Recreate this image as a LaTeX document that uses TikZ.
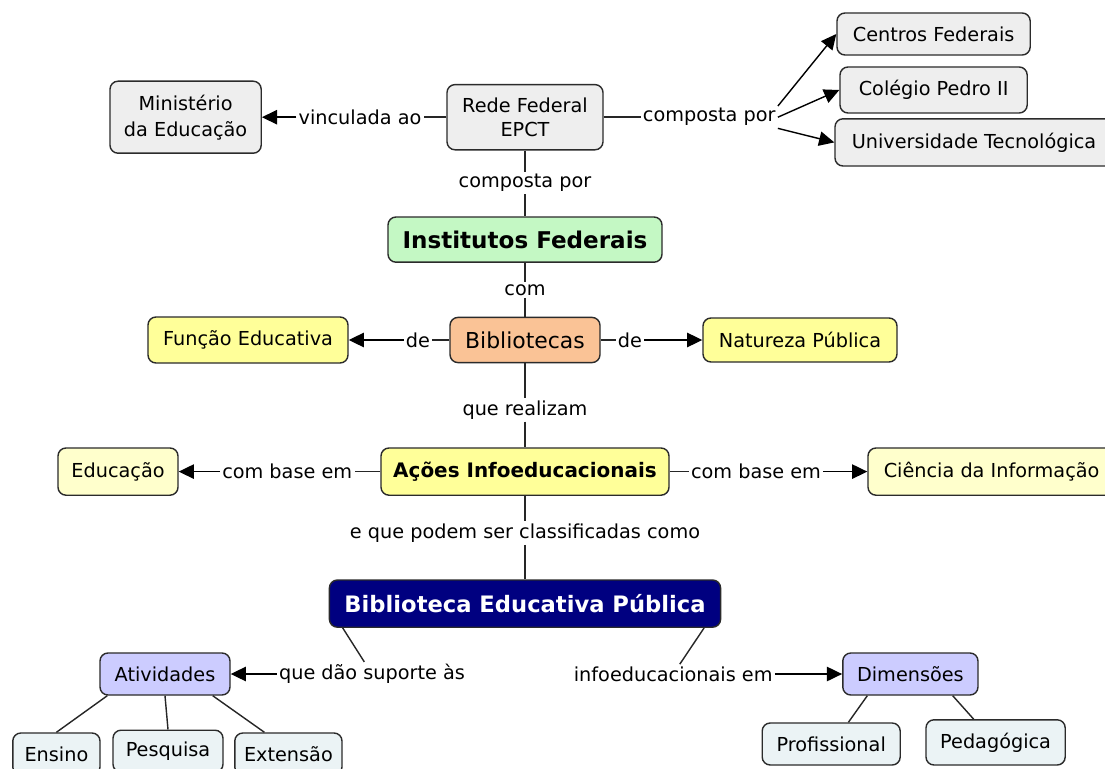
\documentclass[tikz,border=0pt]{standalone}
\usepackage{fontspec}
\setmainfont{DejaVu Sans}
\usetikzlibrary{arrows.meta}
\definecolor{conceptgray}{HTML}{EEEEEE}
\definecolor{redegreen}{HTML}{C4F8C4}
\definecolor{bibpeach}{HTML}{FAC396}
\definecolor{acaoyellow}{HTML}{FFFF99}
\definecolor{baseyellow}{HTML}{FFFFCC}
\definecolor{bepnavy}{HTML}{000080}
\definecolor{dimlilac}{HTML}{CCCCFF}
\definecolor{leafblue}{HTML}{EBF3F5}
\definecolor{edgedark}{HTML}{2B2B2B}
\tikzset{
    concept/.style={
        rectangle, rounded corners=0.2cm, draw=edgedark, line width=1pt,
        fill=conceptgray, align=center, inner sep=2pt, minimum height=1.15cm,
        font=\fontsize{13.7}{17}\selectfont
    },
    federal/.style={concept, fill=redegreen, font=\bfseries\fontsize{16.4}{19}\selectfont},
    library/.style={concept, fill=bibpeach, font=\fontsize{15.6}{19}\selectfont},
    yellowbox/.style={concept, fill=acaoyellow},
    paleyellow/.style={concept, fill=baseyellow},
    navybox/.style={concept, fill=bepnavy, text=white, font=\bfseries\fontsize{16.1}{19}\selectfont},
    lilacbox/.style={concept, fill=dimlilac, minimum height=1.05cm},
    leafbox/.style={concept, fill=leafblue, minimum height=1.05cm},
    linkphrase/.style={fill=white, inner sep=1.5pt, font=\fontsize{13.7}{17}\selectfont},
    arrow/.style={-{Triangle[length=0.38cm, width=0.36cm]}, line width=1pt, draw=black},
    link/.style={line width=1pt, draw=black!85}
}

\begin{document}
\begin{tikzpicture}[x=1cm, y=1cm]

\path [use as bounding box, fill=white] (0,0) rectangle (27.625,-19.225);

% === REDE FEDERAL ===
\node (ministerio) [concept, minimum width=3.78cm, minimum height=1.8cm,
                    font=\fontsize{13.7}{18.5}\selectfont] at (4.64,-2.93) {Ministério\\da Educação};
\node (rede)       [concept, minimum width=3.9cm, minimum height=1.63cm] at (13.125,-2.93) {Rede Federal\\EPCT};
\node (centros)    [concept, minimum width=4.83cm, minimum height=1.05cm] at (23.34,-0.85) {Centros Federais};
\node (colegio)    [concept, minimum width=4.68cm] at (23.34,-2.25) {Colégio Pedro II};
\node (univ)       [concept, minimum width=6.95cm, minimum height=1.18cm] at (24.35,-3.56) {Universidade Tecnológica};

\node (vinculada) [linkphrase] at (9.0,-2.93)     {vinculada ao};
\node (compostaA) [linkphrase] at (17.73,-2.93)   {composta por};
\node (compostaB) [linkphrase] at (13.125,-4.575) {composta por};

% === INSTITUTOS E BIBLIOTECAS ===
\node (institutos)  [federal, minimum width=6.85cm, minimum height=1.13cm] at (13.125,-5.99) {Institutos Federais};
\node (com)         [linkphrase] at (13.125,-7.25) {com};
\node (bibliotecas) [library, minimum width=3.75cm, minimum height=1.13cm] at (13.125,-8.5) {Bibliotecas};
\node (funcao)      [yellowbox, minimum width=5cm] at (6.2,-8.5) {Função Educativa};
\node (natureza)    [yellowbox, minimum width=4.85cm, minimum height=1.1cm] at (20,-8.5) {Natureza Pública};
\node (deA)         [linkphrase] at (10.45,-8.5) {de};
\node (deB)         [linkphrase] at (15.75,-8.5) {de};

% === ACOES INFOEDUCACIONAIS ===
\node (realizam) [linkphrase] at (13.125,-10.25) {que realizam};
\node (acoes)    [yellowbox, minimum width=7.2cm, minimum height=1.18cm,
                  font=\bfseries\fontsize{14.2}{17}\selectfont] at (13.125,-11.79) {Ações Infoeducacionais};
\node (educacao) [paleyellow, minimum width=3cm, minimum height=1.18cm] at (2.95,-11.79) {Educação};
\node (ciencia)  [paleyellow, minimum width=6.18cm, minimum height=1.18cm] at (24.79,-11.79) {Ciência da Informação};
\node (baseA)    [linkphrase] at (7.18,-11.79) {com base em};
\node (baseB)    [linkphrase] at (18.9,-11.79) {com base em};

% === BIBLIOTECA EDUCATIVA ===
\node (classificadas) [linkphrase] at (13.125,-13.33) {e que podem ser classificadas como};
\node (bep) [navybox, minimum width=9.78cm, minimum height=1.18cm] at (13.125,-15.09) {Biblioteca Educativa Pública};

\node (suporte)    [linkphrase] at (9.3,-16.85)   {que dão suporte às};
\node (infoedu)    [linkphrase] at (16.83,-16.85) {infoeducacionais em};
\node (atividades) [lilacbox, minimum width=3.25cm] at (4.125,-16.85) {Atividades};
\node (dimensoes)  [lilacbox, minimum width=3.38cm] at (22.76,-16.85) {Dimensões};

\node (ensino)       [leafbox, minimum width=2.18cm] at (1.41,-18.85) {Ensino};
\node (pesquisa)     [leafbox, minimum width=2.75cm] at (4.2,-18.78)  {Pesquisa};
\node (extensao)     [leafbox, minimum width=2.68cm] at (7.21,-18.85) {Extensão};
\node (profissional) [leafbox, minimum width=3.45cm] at (20.78,-18.6) {Profissional};
\node (pedagogica)   [leafbox, minimum width=3.48cm, minimum height=1.13cm] at (24.89,-18.56) {Pedagógica};

% === LINKS ===
\draw [link]  (rede.west) -- (vinculada.east);
\draw [arrow] (vinculada.west) -- (ministerio.east);
\draw [link]  (rede.east) -- (compostaA.west);
\draw [arrow] (compostaA.north east) -- (centros.west);
\draw [arrow] (compostaA.east) -- (colegio.west);
\draw [arrow] (compostaA.south east) -- (univ.west);
\draw [link]  (rede) -- (compostaB);
\draw [link]  (compostaB) -- (institutos);

\draw [link]  (institutos) -- (com);
\draw [link]  (com) -- (bibliotecas);
\draw [link]  (bibliotecas.west) -- (deA.east);
\draw [arrow] (deA.west) -- (funcao.east);
\draw [link]  (bibliotecas.east) -- (deB.west);
\draw [arrow] (deB.east) -- (natureza.west);

\draw [link]  (bibliotecas) -- (realizam);
\draw [link]  (realizam) -- (acoes);
\draw [link]  (acoes.west) -- (baseA.east);
\draw [arrow] (baseA.west) -- (educacao.east);
\draw [link]  (acoes.east) -- (baseB.west);
\draw [arrow] (baseB.east) -- (ciencia.west);

\draw [link]  (acoes) -- (classificadas);
\draw [link]  (classificadas) -- (bep);
\draw [link]  ([xshift=0.35cm]bep.south west) -- (suporte);
\draw [arrow] (suporte.west) -- (atividades.east);
\draw [link]  ([xshift=-0.43cm]bep.south east) -- (infoedu);
\draw [arrow] (infoedu.east) -- (dimensoes.west);

\draw [link] ([xshift=0.2cm]atividades.south west) -- (ensino.north);
\draw [link] (atividades.south) -- (pesquisa.north);
\draw [link] ([xshift=-0.45cm]atividades.south east) -- ([xshift=-0.6cm]extensao.north);
\draw [link] ([xshift=0.63cm]dimensoes.south west) -- ([xshift=0.43cm]profissional.north);
\draw [link] ([xshift=-0.65cm]dimensoes.south east) -- ([xshift=-0.55cm]pedagogica.north);

\end{tikzpicture}
\end{document}
